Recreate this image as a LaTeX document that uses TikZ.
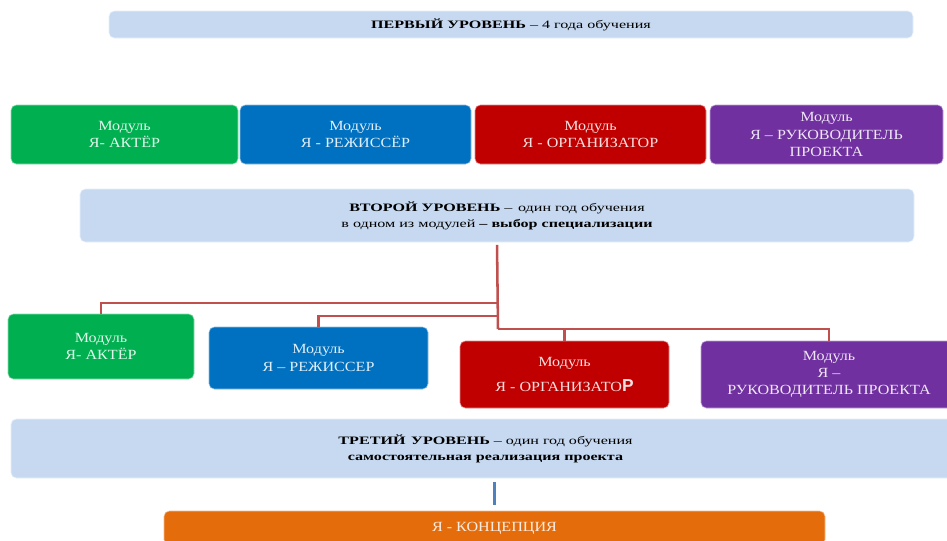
\documentclass[tikz,border=0pt]{standalone}
\usepackage{fontspec}
\setmainfont{Liberation Serif}
\setsansfont{Liberation Sans}
\newfontfamily\lvlfont[FakeStretch=1.42]{Liberation Serif}
\newfontfamily\modfont[FakeStretch=1.15]{Liberation Serif}
\usepackage{tikz}
\usetikzlibrary{positioning,calc}
\definecolor{lvlblue}{HTML}{C6D9F1}
\definecolor{modgreen}{HTML}{00B050}
\definecolor{modblue}{HTML}{0070C0}
\definecolor{modred}{HTML}{C00000}
\definecolor{modpurple}{HTML}{7030A0}
\definecolor{modorange}{HTML}{E46C0A}
\definecolor{linkred}{HTML}{C0504D}
\definecolor{linkblue}{HTML}{4F81BD}

\begin{document}
\begin{tikzpicture}[x=0.75pt, y=-0.75pt,
  level/.style={fill=lvlblue, draw=white!60!lvlblue, rounded corners=4pt, align=center,
    inner sep=0pt, font=\lvlfont\fontsize{8.5}{12}\selectfont},
  module/.style={fill=#1, draw=white!55!#1, rounded corners=4pt, align=center,
    inner sep=0pt, text=white!88!#1, font=\modfont\fontsize{10.5}{13}\selectfont},
  branch/.style={draw=linkred, line width=1.9pt},
  stem/.style={draw=linkblue, line width=1.9pt}]
  \useasboundingbox (0,0) rectangle (947,540);
  \clip (0,0) rectangle (947,540);
  \fill[white] (0,0) rectangle (947,540);

  % first level
  \node[level, minimum width=603pt, minimum height=20.25pt] (lvl1) at (511,24.5)
    {{\bfseries ПЕРВЫЙ УРОВЕНЬ} – 4 года обучения};

  % modules, first row
  \node[module=modgreen, minimum width=170.25pt, minimum height=44.25pt] (m1a) at (124.5,134.5)
    {Модуль\\Я- АКТЁР};
  \node[module=modblue, minimum width=173.25pt, minimum height=44.25pt] (m1b) at (355.5,134.5)
    {Модуль\\Я - РЕЖИССЁР};
  \node[module=modred, minimum width=173.25pt, minimum height=44.25pt] (m1c) at (590.5,134.5)
    {Модуль\\Я - ОРГАНИЗАТОР};
  \node[module=modpurple, minimum width=174.75pt, minimum height=44.25pt] (m1d) at (826.5,134.5)
    {Модуль\\Я – РУКОВОДИТЕЛЬ\\ПРОЕКТА};

  % second level
  \node[level, minimum width=625.5pt, minimum height=39.75pt] (lvl2) at (497,215.5)
    {{\bfseries ВТОРОЙ УРОВЕНЬ} –\enspace один год обучения\\
     в одном из модулей {\bfseries – выбор специализации}};

  % modules, second row
  \node[module=modgreen, minimum width=139.5pt, minimum height=48.75pt] (m2a) at (101,346.5)
    {Модуль\\Я- АКТЁР};
  \node[module=modblue, minimum width=164.25pt, minimum height=46.5pt] (m2b) at (318.5,358)
    {Модуль\\Я – РЕЖИССЕР};
  \node[module=modred, minimum width=156.75pt, minimum height=50.25pt] (m2c) at (564.5,374.5)
    {Модуль\\[6pt]Я - ОРГАНИЗАТО{\sffamily\bfseries\fontsize{13}{13}\selectfont Р}};
  \node[module=modpurple, minimum width=192pt, minimum height=50.25pt] (m2d) at (829,374.5)
    {Модуль\\Я –\\РУКОВОДИТЕЛЬ ПРОЕКТА};

  % third level
  \node[level, minimum width=711.75pt, minimum height=44.25pt] (lvl3) at (485.5,448.5)
    {{\bfseries ТРЕТИЙ\enspace УРОВЕНЬ} – один год обучения\\
     {\bfseries самостоятельная реализация проекта}};

  \node[module=modorange, minimum width=495.75pt, minimum height=25.5pt] (concept) at (494.5,528)
    {Я - КОНЦЕПЦИЯ};

  % connectors
  \coordinate (t1) at (498,303);
  \coordinate (t2) at (498,316);
  \coordinate (t3) at (498,329);
  \draw[branch, shorten <=2pt] (lvl2.south) -- (t3);
  \draw[branch] (t1) -| (m2a.north);
  \draw[branch] (t2) -| (m2b.north);
  \draw[branch] (t3) -| (m2c.north);
  \draw[branch] (t3) -| (m2d.north);
  \draw[stem, shorten <=3pt, shorten >=4pt] (lvl3.south -| concept.north) -- (concept.north);
\end{tikzpicture}
\end{document}
